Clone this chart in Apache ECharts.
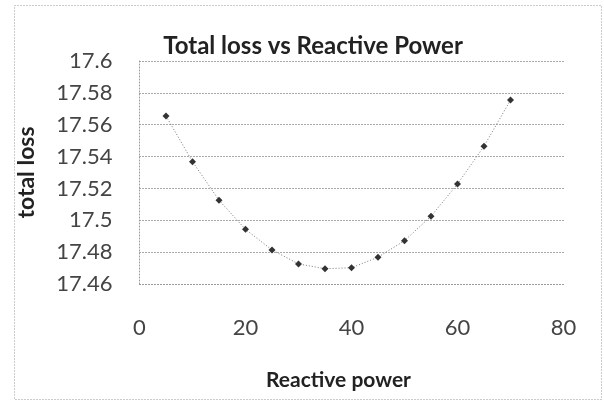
<!DOCTYPE html>
<html>
<head>
<meta charset="utf-8">
<script src="https://cdn.jsdelivr.net/npm/echarts@6/dist/echarts.min.js"></script>
<style>
html,body{margin:0;padding:0;background:#fff;}
#chart{width:604px;height:403px;}
</style>
</head>
<body>
<div id="chart"></div>
<script>
var reactivePower = [5, 10, 15, 20, 25, 30, 35, 40, 45, 50, 55, 60, 65, 70];
var totalLoss = [17.5655, 17.5368, 17.5126, 17.4943, 17.4814, 17.4726, 17.4696, 17.4702, 17.4768, 17.4872, 17.5025, 17.5228, 17.5465, 17.5755];
var titleText = 'Total loss vs Reactive Power';
var xName = 'Reactive power';
var yName = 'total loss';

var points = reactivePower.map(function (x, i) { return [x, totalLoss[i]]; });
var font = 'Lato, "Open Sans", sans-serif';

var chart = echarts.init(document.getElementById('chart'), null, {renderer: 'canvas'});
chart.setOption({
  backgroundColor: '#ffffff',
  animation: false,
  title: {
    text: titleText,
    left: 308,
    top: 29,
    textAlign: 'center',
    textStyle: {fontFamily: font, fontSize: 24, fontWeight: 'bold', color: '#222'}
  },
  graphic: [{
    type: 'rect',
    shape: {x: 14.5, y: 5.5, width: 587, height: 394},
    style: {fill: 'none', stroke: '#999', lineWidth: 1, lineDash: [1, 2]},
    silent: true
  }],
  grid: {left: 139.5, right: 40.5, top: 61, bottom: 119},
  xAxis: {
    type: 'value',
    min: 0, max: 80, interval: 20,
    name: xName,
    nameLocation: 'middle',
    nameGap: 86,
    nameTextStyle: {fontFamily: font, fontSize: 21, fontWeight: 'bold', color: '#222', padding: [0, 26, 0, 0]},
    axisLine: {show: true, lineStyle: {color: '#999', type: [1, 2], width: 1}},
    axisTick: {show: false},
    splitLine: {show: false},
    axisLabel: {margin: 33, fontFamily: font, fontSize: 22, color: '#444'}
  },
  yAxis: {
    type: 'value',
    min: 17.46, max: 17.6, interval: 0.02,
    name: yName,
    nameLocation: 'middle',
    nameRotate: 90,
    nameGap: 101,
    nameTextStyle: {fontFamily: font, fontSize: 23, fontWeight: 'bold', color: '#222'},
    axisLine: {show: true, lineStyle: {color: '#999', type: [1, 2], width: 1}},
    axisTick: {show: false},
    splitLine: {show: true, lineStyle: {color: '#555', type: [1, 2], width: 1}},
    axisLabel: {
      margin: 27, fontFamily: font, fontSize: 22, color: '#444',
      formatter: function (v) { return String(parseFloat(v.toFixed(2))); }
    }
  },
  series: [{
    type: 'line',
    data: points,
    symbol: 'diamond',
    symbolSize: 7,
    lineStyle: {color: '#777', width: 1, type: [1, 2]},
    itemStyle: {color: '#333'}
  }]
});
</script>
</body>
</html>
